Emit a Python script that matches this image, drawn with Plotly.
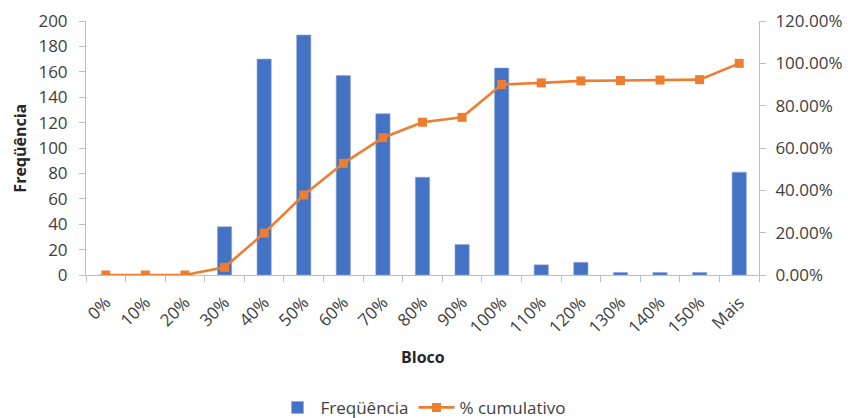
import plotly.graph_objects as go

# Frequency histogram per block bin with cumulative percentage
categories = ["0%", "10%", "20%", "30%", "40%", "50%", "60%", "70%", "80%",
              "90%", "100%", "110%", "120%", "130%", "140%", "150%", "Mais"]
frequencia = [0, 0, 0, 38, 170, 189, 157, 127, 77, 24, 163, 8, 10, 2, 2, 2, 81]
cumulativo = [0.0, 0.0, 0.0, 3.62, 19.81, 37.81, 52.76, 64.86, 72.19, 74.48,
              90.0, 90.76, 91.71, 91.90, 92.10, 92.29, 100.0]

left_ticks = list(range(0, 201, 20))
right_ticks = list(range(0, 121, 20))
right_labels = [f"{v:.2f}%" for v in right_ticks]

BLUE = "#4472C4"
ORANGE = "#ED7D31"
AXIS = "#BFBFBF"
TEXT = "#404040"
FONT = "Open Sans"

fig = go.Figure()
fig.add_trace(go.Bar(
    x=categories, y=frequencia, name="Freqüência",
    marker=dict(color=BLUE, line=dict(color="#8FAADC", width=0.6)),
    yaxis="y",
))
fig.add_trace(go.Scatter(
    x=categories, y=cumulativo, name="% cumulativo",
    mode="lines+markers",
    line=dict(color=ORANGE, width=2.6),
    marker=dict(symbol="square", size=9, color=ORANGE),
    yaxis="y2",
))

fig.update_layout(
    width=848, height=418,
    margin=dict(l=86, r=89, t=21, b=143, autoexpand=False),
    paper_bgcolor="white", plot_bgcolor="white",
    font=dict(family=FONT, size=17, color=TEXT),
    bargap=0.64,
    showlegend=True,
    legend=dict(orientation="h", x=0.5, xanchor="center", y=-0.523,
                yanchor="middle", font=dict(size=17, color=TEXT),
                itemwidth=36, traceorder="normal"),
    xaxis=dict(
        type="category", range=[-0.5, len(categories) - 0.5],
        showgrid=False, showline=True, linecolor=AXIS,
        linewidth=1, ticks="outside", tickson="boundaries", ticklen=6,
        tickcolor=AXIS, tickangle=-45, tickfont=dict(size=17, color=TEXT),
        ticklabelstandoff=10, zeroline=False, automargin=False,
    ),
    yaxis=dict(
        range=[0, 200], tickvals=left_ticks, showgrid=False, showline=True,
        linecolor=AXIS, ticks="outside", ticklen=6, tickcolor=AXIS,
        tickfont=dict(size=17, color=TEXT), ticklabelstandoff=8,
        zeroline=False, automargin=False,
    ),
    yaxis2=dict(
        range=[0, 120], tickvals=right_ticks, ticktext=right_labels,
        overlaying="y", side="right",
        showgrid=False, showline=True, linecolor=AXIS, ticks="outside",
        ticklen=6, tickcolor=AXIS, ticklabelstandoff=6,
        tickfont=dict(size=17, color=TEXT), zeroline=False, automargin=False,
    ),
    annotations=[
        dict(text="<b>Bloco</b>", xref="paper", yref="paper", x=0.5,
             y=-0.323, xanchor="center", yanchor="middle", showarrow=False,
             font=dict(size=16, color="#262626")),
        dict(text="<b>Freqüência</b>", xref="paper", yref="paper",
             x=-0.0986, y=0.5, xanchor="center", yanchor="middle",
             textangle=-90, showarrow=False,
             font=dict(size=16, color="#262626")),
    ],
)

fig.write_html("out.html")
